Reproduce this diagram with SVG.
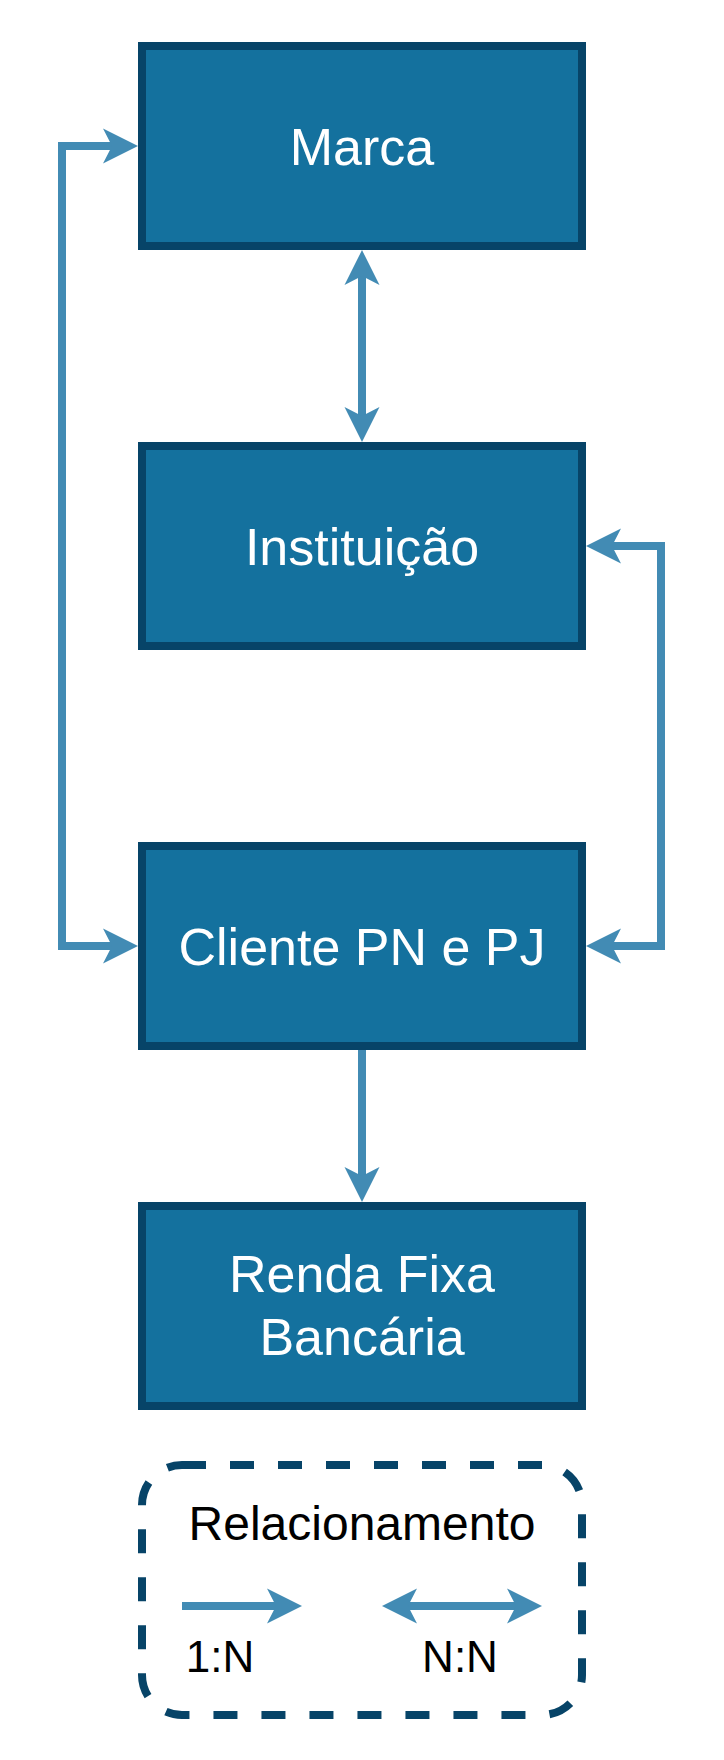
<svg xmlns="http://www.w3.org/2000/svg" width="724" height="1760" viewBox="0 0 724 1760">
<style>
.node{fill:#14719E;stroke:#074468;stroke-width:8}
.lbl{fill:#FFFFFF;font-family:"Liberation Sans",Arial,sans-serif;font-size:52px;text-anchor:middle}
.leg{fill:#000000;font-family:"Liberation Sans",Arial,sans-serif;text-anchor:middle}
.edge{fill:none;stroke:#428BB4;stroke-width:8}
</style>
<defs>
<marker id="ah" markerUnits="userSpaceOnUse" markerWidth="38" markerHeight="38" viewBox="0 0 38 38" refX="15" refY="19" orient="auto-start-reverse">
<path d="M36,19 L1,1.5 L10,19 L1,36.5 Z" fill="#428BB4"/>
</marker>
</defs>
<rect width="724" height="1760" fill="#FFFFFF"/>
<g id="connectors">
<path class="edge" d="M362,271 V421" marker-start="url(#ah)" marker-end="url(#ah)"/>
<path class="edge" d="M117,146 H62 V946 H117" marker-start="url(#ah)" marker-end="url(#ah)"/>
<path class="edge" d="M607,546 H661 V946 H607" marker-start="url(#ah)" marker-end="url(#ah)"/>
<path class="edge" d="M362,1050 V1181" marker-end="url(#ah)"/>
</g>
<g id="marca">
<rect class="node" x="142" y="46" width="440" height="200"/>
<text class="lbl" x="362" y="165">Marca</text>
</g>
<g id="instituicao">
<rect class="node" x="142" y="446" width="440" height="200"/>
<text class="lbl" x="362" y="565">Instituição</text>
</g>
<g id="cliente">
<rect class="node" x="142" y="846" width="440" height="200"/>
<text class="lbl" x="362" y="965">Cliente PN e PJ</text>
</g>
<g id="renda">
<rect class="node" x="142" y="1206" width="440" height="200"/>
<text class="lbl" x="362" y="1292">Renda Fixa</text>
<text class="lbl" x="362" y="1355">Bancária</text>
</g>
<g id="legenda">
<rect x="142" y="1465" width="440" height="250" rx="40" ry="40" fill="none" stroke="#074468" stroke-width="8" stroke-dasharray="24 24"/>
<text class="leg" x="362" y="1540" font-size="48">Relacionamento</text>
<path class="edge" d="M182,1606 H281" marker-end="url(#ah)"/>
<path class="edge" d="M403,1606 H521" marker-start="url(#ah)" marker-end="url(#ah)"/>
<text class="leg" x="220" y="1672" font-size="44">1:N</text>
<text class="leg" x="460" y="1672" font-size="44">N:N</text>
</g>
</svg>
